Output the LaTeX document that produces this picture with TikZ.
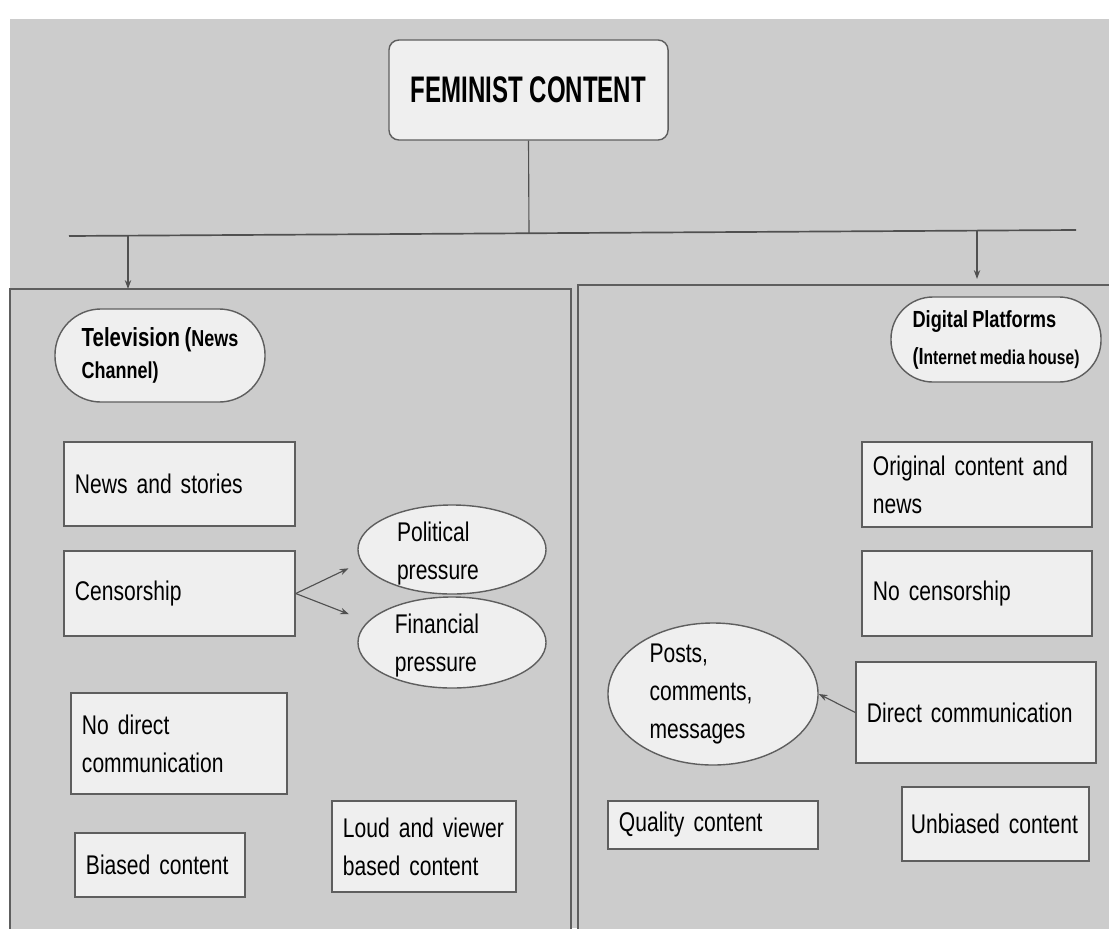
\documentclass[tikz,border=0pt]{standalone}
\usepackage{fontspec}
\setmainfont{Liberation Sans}[FakeStretch=0.78, WordSpace=0.8]
\newfontfamily\headfont{Liberation Sans}[FakeStretch=0.65]
\usetikzlibrary{shapes.geometric,arrows.meta}
\definecolor{pagegray}{HTML}{CCCCCC}
\definecolor{boxfill}{HTML}{EFEFEF}
\definecolor{edgegray}{HTML}{5E5E5E}
\definecolor{linegray}{HTML}{505050}
\newcommand{\bodyfont}{\fontsize{19.2}{27}\selectfont}

\tikzset{
  panel/.style={draw=edgegray, line width=1.1pt, fill=pagegray, inner sep=0pt, outer sep=0pt},
  textbox/.style={draw=edgegray, line width=1pt, fill=boxfill, align=left,
    inner xsep=0.275cm, inner ysep=2pt, font=\bodyfont},
  pill/.style={draw=edgegray, line width=1pt, fill=boxfill, align=left, inner sep=0pt},
  bubble/.style={ellipse, draw=edgegray, line width=1pt, fill=boxfill, inner sep=0pt},
  bubbletext/.style={font=\bodyfont, align=left},
  link/.style={draw=linegray, line width=0.8pt},
  tip/.style={-{Stealth[length=2.2mm,width=1.6mm]}},
}

\begin{document}
\begin{tikzpicture}[x=0.025cm, y=-0.025cm]
  \useasboundingbox (0,0) rectangle (1109,928);
  \fill[white] (0,0) rectangle (1109,928);
  \fill[pagegray] (10,19) rectangle (1109,928);

  \node[panel, minimum width=14.025cm, minimum height=16.025cm] (tvpanel) at (290.5,609.5) {};
  \node[panel, minimum width=13.425cm, minimum height=16.125cm] (webpanel) at (846.5,607.5) {};

  \node[draw=edgegray, line width=1pt, fill=boxfill, rounded corners=0.25cm,
    minimum width=6.975cm, minimum height=2.5cm,
    font=\headfont\bfseries\fontsize{26.3}{30}\selectfont] (feminist) at (528.5,90) {FEMINIST CONTENT};

  \coordinate (barL) at (69,236);
  \coordinate (barR) at (1076,230);
  \coordinate (barM) at (529,233.3);
  \coordinate (tvdrop) at (128,235.6);
  \coordinate (webdrop) at (977,231);
  \draw[link] (feminist.south) -- (barM);
  \draw[link, line width=1.2pt] (barL) -- (barR);
  \draw[link, tip] (tvdrop) -- (tvdrop |- tvpanel.north);
  \draw[link, tip, shorten >=0.15cm] (webdrop) -- (webdrop |- webpanel.north);

  \node[pill, rounded corners=1.15cm, minimum width=5.25cm, minimum height=2.325cm,
    font=\fontsize{16.4}{22.8}\selectfont\bfseries] (tv) at (160,355.5)
    {{\fontsize{18.6}{22.8}\selectfont Television (}News\\Channel)};
  \node[pill, rounded corners=1.05cm, minimum width=5.25cm, minimum height=2.125cm,
    font=\fontsize{14.2}{26.3}\selectfont\bfseries] (digital) at (996,339.5)
    {{\fontsize{16.6}{26.3}\selectfont Digital Platforms}\\{\fontsize{16.6}{26.3}\selectfont (I}nternet media house)};

  \node[textbox, text width=5.225cm, minimum height=2.1cm] (news) at (179.5,484) {News and stories};
  \node[textbox, text width=5.225cm, minimum height=2.125cm] (cens) at (179.5,593.5) {Censorship};
  \node[textbox, text width=4.85cm, minimum height=2.525cm] (nodirect) at (179,743.5) {No direct\\communication};
  \node[textbox, text width=3.7cm, minimum height=1.6cm] (biased) at (160,865) {Biased content};
  \node[textbox, text width=4.05cm, minimum height=2.275cm] (loud) at (424,846.5) {Loud and viewer\\based content};

  \node[bubble, minimum width=4.7cm, minimum height=2.225cm,
    label={[bubbletext, xshift=-0.35cm, yshift=-0.1cm]center:Political\\pressure}] (pol) at (452,549.5) {};
  \node[bubble, minimum width=4.7cm, minimum height=2.275cm,
    label={[bubbletext, xshift=-0.375cm, yshift=-0.075cm]center:Financial\\pressure}] (fin) at (452,642.5) {};

  \node[textbox, text width=5.2cm, minimum height=2.125cm] (orig) at (977,484.5) {Original content and\\news};
  \node[textbox, text width=5.2cm, minimum height=2.125cm] (nocens) at (977,593.5) {No censorship};
  \node[textbox, text width=5.45cm, minimum height=2.525cm] (direct) at (976,712.5) {Direct communication};
  \node[textbox, text width=4.7cm, minimum height=1.2cm] (quality) at (713,825) {Quality content};
  \node[textbox, inner xsep=0.225cm, text width=4.225cm, minimum height=1.85cm] (unbiased) at (995.5,824) {Unbiased content};

  \node[bubble, minimum width=5.25cm, minimum height=3.55cm,
    label={[bubbletext, xshift=-0.3cm]center:Posts,\\comments,\\messages}] (posts) at (713,694) {};

  \draw[link, tip, shorten >=0.35cm] (cens.east) -- (pol.188);
  \draw[link, tip, shorten >=0.5cm] (cens.east) -- (fin.166);
  \draw[link, tip] (direct.west) -- (posts.east);
\end{tikzpicture}
\end{document}
